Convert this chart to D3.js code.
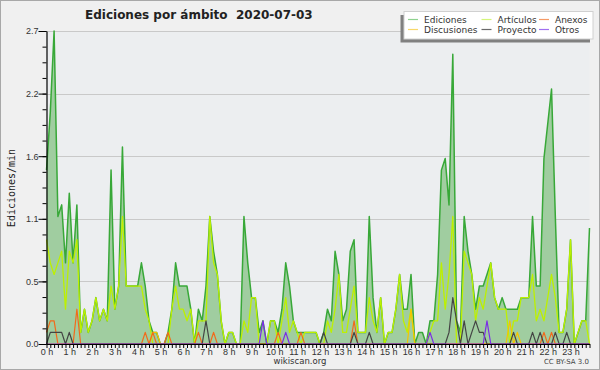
<!DOCTYPE html>
<html>
<head>
<meta charset="utf-8">
<script src="https://cdn.jsdelivr.net/npm/d3@7"></script>
<style>
  body { margin: 0; background: #fff; }
  svg { display: block; }
</style>
</head>
<body>
<div id="my_dataviz"></div>
<script>

// edits per minute, one value per 10 minutes (144 slots)
const ediciones = [
  1.5,2.0,2.7,1.1,1.2,0.7,1.3,0.7,1.2,0.1,0.3,0.1,
  0.2,0.4,0.2,0.3,0.2,1.5,0.3,0.5,1.7,0.5,0.5,0.5,
  0.5,0.7,0.5,0.2,0.1,0.1,0,0,0.1,0.3,0.7,0.5,
  0.5,0.5,0.3,0,0.3,0.2,0.5,1.1,0.8,0.6,0.2,0,
  0.1,0.1,0,0,1.1,0.7,0.4,0.4,0.1,0.2,0,0.2,
  0.2,0.1,0.3,0.7,0.5,0.2,0.1,0.1,0.1,0.1,0.1,0.1,
  0,0.1,0.3,0.2,0.8,0.6,0.2,0.3,0.8,0.9,0.1,0.1,
  0.1,1.1,0.4,0.1,0.4,0,0.1,0.1,0.3,0.6,0.3,0.3,
  0.6,0,0.1,0.1,0,0.2,0.2,0.6,1.5,1.6,1.2,2.5,
  0.2,0.1,1.1,0.8,0.6,0.3,0.5,0.5,0.6,0.7,0.4,0.3,
  0.4,0.3,0.3,0.3,0.3,0.4,0.4,0.4,1.1,0.5,0.5,1.6,
  1.9,2.2,1.1,0.1,0.1,0.3,0.9,0,0.1,0.2,0.2,1.0
];
const articulos = [
  0.9,0.7,0.6,0.7,0.8,0.3,0.8,0.7,0.9,0.1,0.3,0.1,
  0.2,0.4,0.2,0.3,0.2,0.5,0.3,0.5,1.1,0.5,0.5,0.5,
  0.5,0.5,0.3,0.2,0,0,0,0,0,0.3,0.5,0.3,
  0.3,0.2,0.3,0,0.2,0.2,0.2,1.1,0.7,0.6,0.2,0,
  0.1,0.1,0,0,0.2,0.1,0.4,0.4,0,0,0,0.2,
  0.2,0,0.2,0.4,0.1,0.2,0.1,0,0.1,0.1,0.1,0.1,
  0,0,0.2,0.1,0.3,0.6,0.1,0.1,0.3,0.5,0.1,0.1,
  0.1,0.4,0.2,0.1,0.4,0,0.1,0.1,0.3,0.6,0.2,0.1,
  0.3,0,0,0,0,0.1,0.2,0.2,0.7,0.3,0.6,1.1,
  0,0,0.8,0.7,0.6,0.2,0.4,0.3,0.5,0.7,0.4,0.3,
  0.3,0.3,0,0.2,0.2,0.4,0.4,0.4,0.6,0.2,0.3,0.2,
  0.4,0.6,0.4,0.1,0.1,0.3,0.9,0,0.1,0.2,0.2,0
];
const anexos = [
  0.1,0.2,0.2,0,0,0,0,0,0.3,0,0,0,
  0,0,0,0,0,0,0,0,0,0,0,0,
  0,0,0.1,0,0.1,0,0,0,0.1,0,0,0,
  0,0,0,0,0.1,0,0,0,0.1,0,0,0,
  0,0,0,0,0,0,0,0,0,0,0,0,
  0,0.1,0,0,0,0,0,0.1,0,0,0,0,
  0,0,0,0,0,0,0,0,0,0.2,0,0,
  0,0,0,0,0,0,0,0,0,0,0,0,
  0,0,0,0,0,0,0,0,0,0,0,0,
  0,0,0,0,0,0,0,0,0,0,0,0,
  0,0,0,0,0,0,0,0,0,0,0,0.1,
  0,0.1,0,0,0,0,0,0,0,0,0,0
];
const discusiones = [
  0,0,0,0,0,0,0,0,0,0,0,0,
  0,0,0,0,0,0,0,0,0,0,0,0,
  0,0,0,0,0.1,0.1,0,0,0,0,0,0,
  0,0,0,0,0,0,0,0,0,0,0,0,
  0,0,0,0,0,0,0,0,0,0,0,0,
  0,0,0,0,0,0,0,0,0,0,0,0,
  0,0,0,0,0,0,0,0,0,0,0,0,
  0,0,0,0,0,0,0,0,0,0,0,0,
  0.3,0,0,0,0,0,0,0,0,0,0,0,
  0,0,0,0,0,0,0,0,0,0,0,0,
  0,0,0.2,0,0.1,0,0,0,0,0,0,0,
  0,0,0,0,0,0,0,0,0,0,0,0
];
const proyecto = [
  0,0.1,0.1,0.1,0.1,0,0.1,0,0,0,0,0,
  0,0,0,0,0,0,0,0,0,0,0,0,
  0,0,0,0,0,0,0,0,0,0,0,0,
  0,0,0,0,0,0,0.2,0,0,0,0,0,
  0,0,0,0,0,0,0,0,0,0,0,0,
  0,0,0,0,0,0,0,0,0,0,0,0,
  0,0.1,0,0,0,0,0,0,0,0.1,0,0,
  0,0.1,0,0,0,0,0,0,0,0,0,0,
  0,0,0,0,0,0,0,0,0,0,0.1,0.4,
  0.2,0,0.2,0,0.1,0.2,0.1,0.1,0,0,0,0,
  0,0,0,0.1,0,0,0,0,0.1,0,0.1,0,
  0,0,0.1,0,0,0.1,0,0,0,0,0,0
];
const otros = [
  0,0,0,0,0,0,0,0,0,0,0,0,
  0,0,0,0,0,0,0,0,0,0,0,0,
  0,0,0,0,0,0,0,0,0,0,0,0,
  0,0,0,0,0,0,0,0,0,0,0,0,
  0,0,0,0,0,0,0,0,0,0.2,0,0,
  0,0,0,0.1,0,0,0,0,0,0,0,0,
  0,0,0,0,0,0,0,0,0,0,0,0,
  0,0,0,0,0,0,0,0,0,0,0,0,
  0,0,0,0,0,0.1,0,0,0,0,0,0,
  0,0,0,0,0,0,0,0,0.2,0,0,0,
  0,0,0,0,0,0,0,0,0,0,0,0,
  0,0,0,0,0,0,0,0,0,0,0,0
];

const seriesNames = ["Ediciones", "Artículos", "Anexos", "Discusiones", "Proyecto", "Otros"];
const hourLabels = ["0 h","1 h","2 h","3 h","4 h","5 h","6 h","7 h","8 h","9 h","10 h","11 h",
  "12 h","13 h","14 h","15 h","16 h","17 h","18 h","19 h","20 h","21 h","22 h","23 h"];
const yTickValues = [0, 0.54, 1.08, 1.62, 2.16, 2.7];
const yTickLabels = ["0.0", "0.5", "1.1", "1.6", "2.2", "2.7"];

const colors = {
  "Ediciones": "#38a838",
  "Artículos": "#bdf000",
  "Anexos": "#f26a1b",
  "Discusiones": "#f5c400",
  "Proyecto": "#444444",
  "Otros": "#7a2ee6"
};
const legendColors = {
  "Ediciones": "#8fd28f",
  "Artículos": "#d4f57a",
  "Anexos": "#f59a66",
  "Discusiones": "#f7d86a",
  "Proyecto": "#6a6a6a",
  "Otros": "#a070f0"
};

const W = 600, H = 370;
const margin = {top: 31, right: 10.5, bottom: 26, left: 46.5};

const svg = d3.select("#my_dataviz")
  .append("svg")
    .attr("width", W)
    .attr("height", H)
    .style("font-family", "'DejaVu Sans', sans-serif");

// background + frame
svg.append("rect")
  .attr("x", 0.5).attr("y", 0.5)
  .attr("width", W - 1).attr("height", H - 1)
  .attr("fill", "#f0f0f0")
  .attr("stroke", "#a8a8a8");

svg.append("rect")
  .attr("x", margin.left).attr("y", margin.top)
  .attr("width", W - margin.right - margin.left)
  .attr("height", H - margin.bottom - margin.top)
  .attr("fill", "#eceef0");

const n = ediciones.length;
const x = d3.scaleLinear()
  .domain([0, n - 1])
  .range([margin.left, W - margin.right]);
const y = d3.scaleLinear()
  .domain([0, 2.7])
  .range([H - margin.bottom, margin.top]);

// gridlines
svg.append("g")
  .selectAll("line")
  .data(yTickValues.slice(1))
  .join("line")
    .attr("x1", margin.left)
    .attr("x2", W - margin.right)
    .attr("y1", d => Math.round(y(d)) + 0.5)
    .attr("y2", d => Math.round(y(d)) + 0.5)
    .attr("stroke", "#c9c9c9")
    .attr("stroke-width", 1);

// total area
svg.append("path")
  .datum(ediciones)
  .attr("fill", "#a0cda0")
  .attr("stroke", "none")
  .attr("d", d3.area()
    .x((d, i) => x(i))
    .y0(y(0))
    .y1(d => y(d)));

const line = d3.line()
  .x((d, i) => x(i))
  .y(d => y(d));

const lineData = [
  {name: "Ediciones", values: ediciones, w: 1.5},
  {name: "Artículos", values: articulos, w: 1.3},
  {name: "Discusiones", values: discusiones, w: 1.2},
  {name: "Anexos", values: anexos, w: 1.2},
  {name: "Proyecto", values: proyecto, w: 1.2},
  {name: "Otros", values: otros, w: 1.2}
];

svg.append("g")
  .selectAll("path")
  .data(lineData)
  .join("path")
    .attr("fill", "none")
    .attr("stroke", d => colors[d.name])
    .attr("stroke-width", d => d.w)
    .attr("stroke-linejoin", "round")
    .attr("d", d => line(d.values));

// x axis: a tick every 10 minutes, a label every hour
const xAxis = svg.append("g")
  .attr("transform", `translate(0, ${H - margin.bottom})`)
  .call(d3.axisBottom(x)
    .tickValues(d3.range(n))
    .tickSize(4)
    .tickSizeOuter(0)
    .tickFormat(i => i % 6 === 0 ? hourLabels[i / 6] : ""));
xAxis.select(".domain").attr("stroke", "#000").attr("stroke-width", 1.2);
xAxis.selectAll(".tick line").attr("stroke", "#000");
xAxis.selectAll(".tick text")
  .attr("y", 5)
  .style("font-size", "9px")
  .attr("fill", "#333");

// y axis, minor ticks then major ticks
const minorTicks = d3.range(0, 21).map(k => k * 0.135);
svg.append("g")
  .attr("transform", `translate(${margin.left}, 0)`)
  .call(d3.axisLeft(y).tickValues(minorTicks).tickSize(4).tickFormat(""))
  .call(g => g.select(".domain").remove());

const yAxis = svg.append("g")
  .attr("transform", `translate(${margin.left}, 0)`)
  .call(d3.axisLeft(y)
    .tickValues(yTickValues)
    .tickSize(8)
    .tickSizeOuter(0)
    .tickFormat((d, i) => yTickLabels[i]));
yAxis.select(".domain").attr("stroke", "#000").attr("stroke-width", 1.2);
yAxis.selectAll(".tick text")
  .attr("x", -8)
  .style("font-size", "9px")
  .attr("fill", "#333");

// title
svg.append("text")
  .attr("x", 85)
  .attr("y", 18.5)
  .style("font-size", "12px")
  .style("font-weight", "bold")
  .attr("fill", "#222")
  .attr("xml:space", "preserve")
  .text("Ediciones por ámbito  2020-07-03");

// y label
svg.append("text")
  .attr("transform", "translate(15, 188) rotate(-90)")
  .attr("text-anchor", "middle")
  .style("font-family", "'DejaVu Sans Mono', monospace")
  .style("font-size", "10px")
  .attr("fill", "#222")
  .text("Ediciones/min");

// footer
svg.append("text")
  .attr("x", 300)
  .attr("y", 364)
  .attr("text-anchor", "middle")
  .style("font-size", "8.5px")
  .attr("fill", "#333")
  .text("wikiscan.org");

svg.append("text")
  .attr("x", 589)
  .attr("y", 364)
  .attr("text-anchor", "end")
  .style("font-size", "7px")
  .attr("fill", "#444")
  .text("CC BY-SA 3.0");

// legend with shadow
svg.append("rect")
  .attr("x", 400.5).attr("y", 15)
  .attr("width", 189.5).attr("height", 27.5)
  .attr("fill", "#808080");
svg.append("rect")
  .attr("x", 404).attr("y", 11.5)
  .attr("width", 189).attr("height", 27.5)
  .attr("fill", "#fff")
  .attr("stroke", "#d0d0d0");

const legendCols = [408, 481.5, 539];
const legendRows = [19.5, 29.5];
const legendOrder = ["Ediciones", "Artículos", "Anexos", "Discusiones", "Proyecto", "Otros"];

const leg = svg.append("g")
  .selectAll("g")
  .data(legendOrder)
  .join("g")
    .attr("transform", (d, i) => `translate(${legendCols[i % 3]}, ${legendRows[Math.floor(i / 3)]})`);
leg.append("line")
  .attr("x1", 0).attr("x2", 10)
  .attr("stroke", d => legendColors[d])
  .attr("stroke-width", 1.2);
leg.append("text")
  .attr("x", 16)
  .attr("dy", "0.35em")
  .style("font-size", "9px")
  .attr("fill", "#333")
  .text(d => d);

</script>
</body>
</html>
